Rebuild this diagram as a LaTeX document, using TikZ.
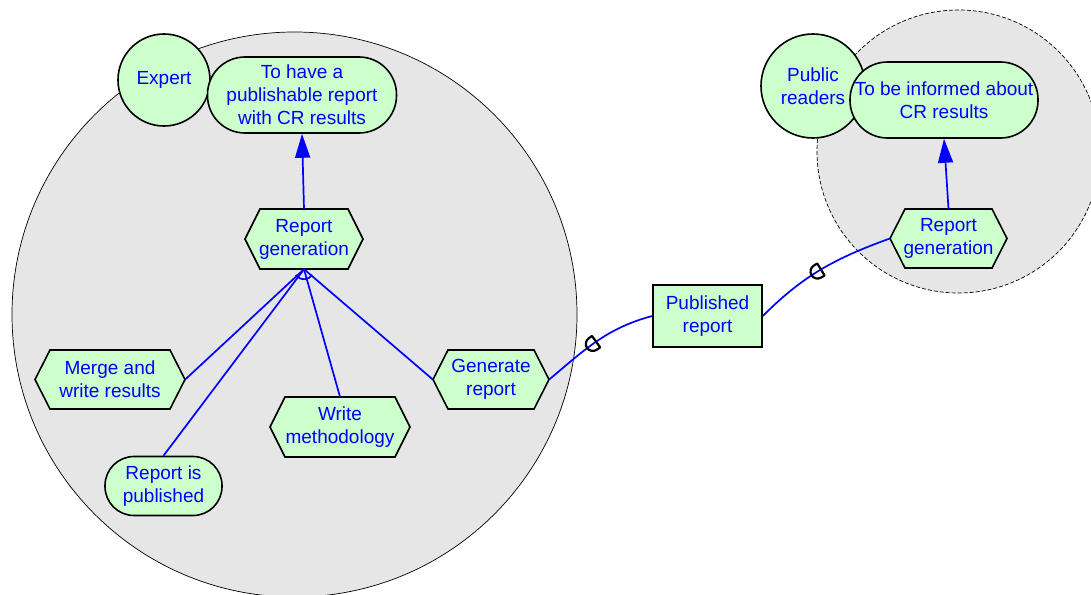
\documentclass[tikz,border=0pt]{standalone}
\usepackage{fontspec}
\setmainfont{Liberation Sans}
\usetikzlibrary{arrows.meta,decorations.markings}

\definecolor{nodegreen}{RGB}{204,255,204}
\definecolor{bndgrey}{RGB}{230,230,230}

\tikzset{
  every node/.style={font=\fontsize{19}{23}\selectfont, text=blue, align=center},
  boundary/.style={fill=bndgrey, draw=black, line width=0.7pt},
  actorc/.style={circle, draw=black, line width=1.6pt, fill=nodegreen, inner sep=0pt},
  goalbox/.style={rectangle, draw=black, line width=1.6pt, fill=nodegreen, rounded corners=#1, inner sep=0pt},
  resbox/.style={rectangle, draw=black, line width=1.6pt, fill=nodegreen, inner sep=0pt},
  hexfill/.style={draw=black, line width=1.6pt, fill=nodegreen},
  hexanchor/.style={rectangle, inner sep=0pt, draw=none},
  link/.style={blue, line width=1.7pt},
  meansend/.style={link, -{Triangle[length=24pt,width=15pt]}},
  dmark/.style={postaction={decorate, decoration={markings,
      mark=at position #1 with {\draw[black, line width=2.2pt, line join=round]
        (4pt,7pt) -- (4pt,-7pt) -- (0pt,-7pt)
        arc[start angle=-90, end angle=-270, radius=7pt] -- cycle;}}}},
}

% hexagonal task node: name, x, y, width, height, text
\newcommand\hexnode[6]{%
  \draw[hexfill, shift={(#2,#3)}]
    ({-#4/2},0) -- ({-#4/2+15},{#5/2}) -- ({#4/2-15},{#5/2}) --
    ({#4/2},0) -- ({#4/2-15},{-#5/2}) -- ({-#4/2+15},{-#5/2}) -- cycle;
  \node[hexanchor, minimum width=#4pt, minimum height=#5pt] (#1) at (#2,#3) {#6};
}

\begin{document}
\begin{tikzpicture}[x=1pt, y=1pt]
  \useasboundingbox (0,0) rectangle (1091,-594);
  \clip (0,0) rectangle (1091,-594);

  % actor boundaries
  \draw[boundary] (294.5,-314.5) circle[radius=282.5];
  \draw[boundary, dash pattern=on 4pt off 2pt] (958.5,-151.5) circle[radius=141.5];

  % actors
  \node[actorc, minimum size=92pt] (expert) at (164,-80) {Expert};
  \node[actorc, minimum size=104pt] (readers) at (813,-86) {Public\\readers};

  % goals
  \node[goalbox=37.5pt, minimum width=189pt, minimum height=76pt] (goalA) at (302,-95)
    {To have a\\publishable report\\with CR results};
  \node[goalbox=37.5pt, minimum width=188pt, minimum height=76pt] (goalB) at (944,-100)
    {To be informed about\\CR results};

  % tasks
  \hexnode{rgA}{304}{-239}{118}{60}{Report\\generation}
  \hexnode{merge}{110}{-379.5}{150}{59}{Merge and\\write results}
  \hexnode{gen}{491}{-379.5}{116}{59}{Generate\\report}
  \hexnode{write}{340}{-427}{140}{60}{Write\\methodology}
  \hexnode{rgB}{948.5}{-238.5}{117}{59}{Report\\generation}

  % state and resource
  \node[goalbox=29pt, minimum width=117pt, minimum height=59pt] (publ) at (163.5,-486)
    {Report is\\published};
  \node[resbox, minimum width=109pt, minimum height=62pt] (pubrep) at (707.5,-316)
    {Published\\report};

  % means-end links
  \draw[meansend] (rgA.north) -- (goalA.south);
  \draw[meansend] (rgB.north) -- (goalB.south);

  % decomposition
  \coordinate (j) at (rgA.south);
  \draw[link] (j) -- (merge.east);
  \draw[link] (j) -- (publ.north);
  \draw[link] (j) -- (write.north);
  \draw[link] (j) -- (gen.west);
  \draw[link] (j) ++(215:10) arc[start angle=215, end angle=325, radius=10];

  % dependencies
  \draw[link, dmark=0.46] (gen.east) to[out=40, in=195] (pubrep.west);
  \draw[link, dmark=0.47] (pubrep.east) to[out=45, in=200] (rgB.west);
\end{tikzpicture}
\end{document}
